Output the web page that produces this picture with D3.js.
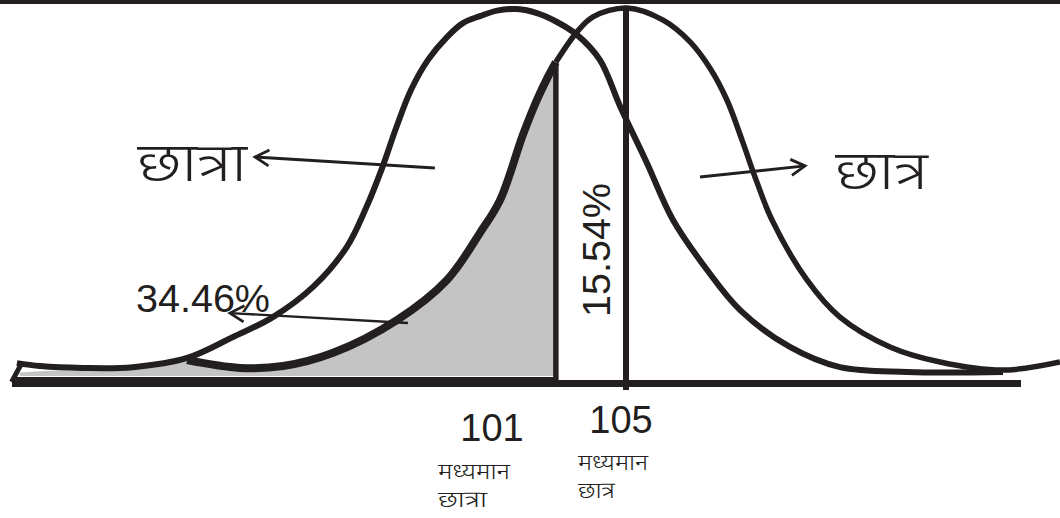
<!DOCTYPE html>
<html><head><meta charset="utf-8">
<script src="https://cdn.jsdelivr.net/npm/d3@7"></script>
<style>
html,body{margin:0;padding:0;background:#fff;}
svg{display:block;}
.dev{font-family:"Noto Sans Devanagari","Lohit Devanagari","Mangal","Noto Sans",sans-serif;font-weight:300;}
.num{font-family:"Liberation Sans",Arial,sans-serif;}
</style></head>
<body>
<script>
// ---- data (score units, relative height 0..1) ----
const girlsScore = [82.85,83.69,85.25,87.07,89.04,90.71,92.16,93.62,94.85,95.55,96.13,96.64,97.18,97.80,98.49,99.07,99.69,100.31,101.04,101.76,102.49,103.22,104.05,104.78,105.76,106.71,107.95,109.15,110.96,112.78,115.22,118.71];
const girlsHeight = [0.035,0.027,0.022,0.024,0.049,0.106,0.160,0.242,0.351,0.457,0.565,0.674,0.777,0.859,0.921,0.959,0.978,0.993,0.997,0.986,0.962,0.927,0.859,0.734,0.579,0.424,0.288,0.179,0.079,0.024,0.011,0.011];
const boysScore = [89.04,90.96,92.53,94.35,96.67,98.49,99.69,100.42,101.25,101.76,102.16,102.45,103.22,103.80,105.04,106.35,107.33,108.05,108.67,109.22,109.73,110.31,111.58,112.78,114.60,116.42,118.71,120.78];
const boysHeight = [0.043,0.022,0.027,0.063,0.152,0.261,0.389,0.478,0.655,0.750,0.813,0.853,0.935,0.976,1.000,0.967,0.908,0.837,0.750,0.641,0.533,0.424,0.261,0.160,0.079,0.038,0.016,0.038];
const shadeTailScore = [82.95,85.5,88.0];
const shadeTailHeight = [0.01,0.02,0.03];
const meanGirls = 101, meanBoys = 105, cutScore = 102.45;
const pctLabels = ["34.46%","15.54%"];
const meanLabels = ["101","105"];
const groupLabels = ["छात्रा","छात्र"];
const meanWord = "मध्यमान";
// annotation arrows: [fromScore, fromH, toScore, toH]
const arrowGirls = [98.05,0.565,91.51,0.595];
const arrowBoys = [107.69,0.541,111.51,0.571];
const arrowPct = [97.07,0.144,90.60,0.171];

const W=1060,H=518, ink="#231f20";
const x = d3.scaleLinear().domain([101,105]).range([516,626]);
const y = d3.scaleLinear().domain([0,1]).range([376,8]);

const svg = d3.select("body").append("svg").attr("width",W).attr("height",H);
svg.append("rect").attr("width",W).attr("height",H).attr("fill","#fff");

const defs = svg.append("defs");
defs.append("marker").attr("id","ah").attr("markerUnits","userSpaceOnUse")
  .attr("viewBox","-20 -10 24 20").attr("refX",0).attr("refY",0)
  .attr("markerWidth",24).attr("markerHeight",20).attr("orient","auto")
  .append("path").attr("d","M-14,-8 L0,0 L-14,8").attr("fill","none")
  .attr("stroke",ink).attr("stroke-width",2.8);

const girls = girlsScore.map((s,i)=>[s,girlsHeight[i]]);
const boys = boysScore.map((s,i)=>[s,boysHeight[i]]);
const line = d3.line().x(d=>x(d[0])).y(d=>y(d[1])).curve(d3.curveCatmullRom.alpha(0.5));

// shaded area under boys curve to the left of the cut
const shadePts = shadeTailScore.map((s,i)=>[s,shadeTailHeight[i]]).concat(boys.filter(d=>d[0]<=cutScore));
const area = d3.area().x(d=>x(d[0])).y0(y(0)).y1(d=>y(d[1])).curve(d3.curveCatmullRom.alpha(0.5));
svg.append("path").datum(shadePts).attr("d",area).attr("fill","#c4c4c4");

// top border
svg.append("rect").attr("x",0).attr("y",0).attr("width",W).attr("height",4).attr("fill",ink);

// baseline
svg.append("line").attr("x1",12).attr("x2",1021).attr("y1",383.5).attr("y2",383.5)
  .attr("stroke",ink).attr("stroke-width",7);
svg.append("line").attr("x1",x(shadeTailScore[0])-4).attr("x2",x(cutScore)+2).attr("y1",380).attr("y2",380)
  .attr("stroke",ink).attr("stroke-width",6);
svg.append("line").attr("x1",x(shadeTailScore[0])+1).attr("y1",y(girlsHeight[0])+2)
  .attr("x2",x(shadeTailScore[0])-8).attr("y2",382).attr("stroke",ink).attr("stroke-width",5);

// curves
svg.append("path").datum(girls).attr("d",line).attr("fill","none").attr("stroke",ink).attr("stroke-width",6);
svg.append("path").datum(boys.filter(d=>d[0]>=cutScore-0.05)).attr("d",line).attr("fill","none").attr("stroke",ink).attr("stroke-width",5.5);
svg.append("path").datum(boys.filter(d=>d[0]<=cutScore)).attr("d",line).attr("fill","none").attr("stroke",ink).attr("stroke-width",8);

// vertical lines
svg.append("line").attr("x1",x(cutScore)).attr("x2",x(cutScore)).attr("y1",y(0.85)).attr("y2",y(0)+4)
  .attr("stroke",ink).attr("stroke-width",5.5);
svg.append("line").attr("x1",x(meanBoys)).attr("x2",x(meanBoys)).attr("y1",y(1)).attr("y2",390)
  .attr("stroke",ink).attr("stroke-width",6);

// arrows
function arrow(a,w){
  svg.append("line").attr("x1",x(a[0])).attr("y1",y(a[1])).attr("x2",x(a[2])).attr("y2",y(a[3]))
   .attr("stroke",ink).attr("stroke-width",w).attr("marker-end","url(#ah)");
}
arrow(arrowGirls,3); arrow(arrowBoys,3); arrow(arrowPct,2.3);

// texts
function txt(cls,xp,yp,size,str,len){
  const t = svg.append("text").attr("class",cls).attr("x",xp).attr("y",yp).attr("font-size",size).attr("fill",ink).text(str);
  if(len) t.attr("textLength",len).attr("lengthAdjust","spacingAndGlyphs");
  return t;
}
txt("dev",137,181,54,groupLabels[0],110);
txt("dev",835,189,54,groupLabels[1],93);
txt("num",136,312,38,pctLabels[0],134);
svg.append("text").attr("class","num").attr("transform","translate(610,317) rotate(-90)").attr("font-size",38)
  .attr("fill",ink).attr("textLength",134).attr("lengthAdjust","spacingAndGlyphs").text(pctLabels[1]);
svg.append("text").attr("class","num").attr("x",492).attr("y",441).attr("text-anchor","middle").attr("font-size",38).attr("fill",ink).text(meanLabels[0]);
svg.append("text").attr("class","num").attr("x",621).attr("y",433).attr("text-anchor","middle").attr("font-size",38).attr("fill",ink).text(meanLabels[1]);
txt("dev",438,479,23,meanWord,72);
txt("dev",438,507,23,groupLabels[0],49);
txt("dev",578,470,23,meanWord,70);
txt("dev",578,498,23,groupLabels[1],37);
</script>
</body></html>
